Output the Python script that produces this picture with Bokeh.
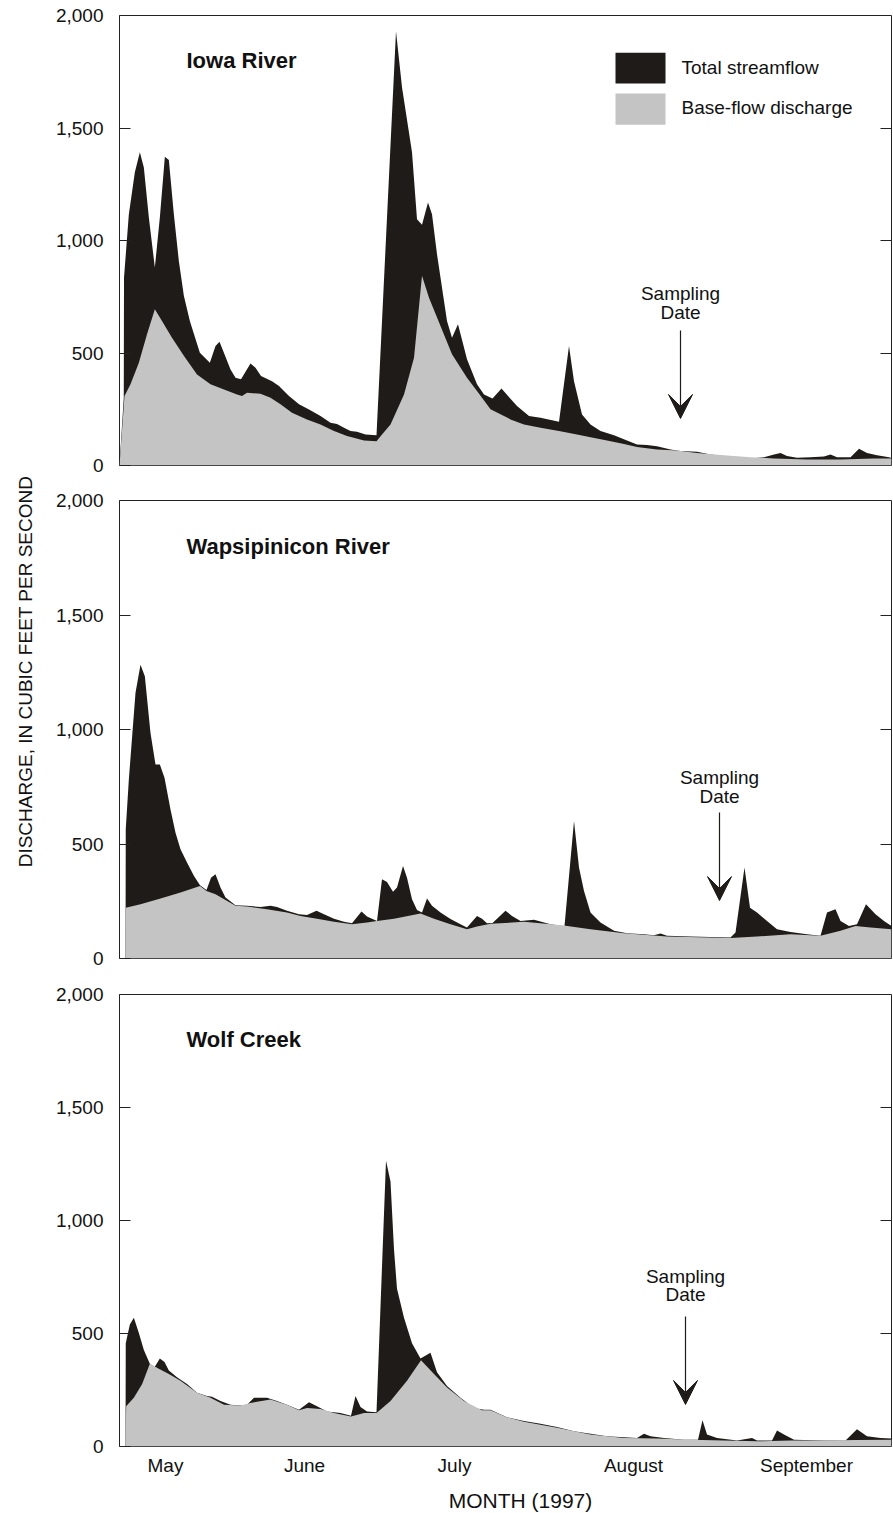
import math
from bokeh.plotting import figure
from bokeh.layouts import column, row
from bokeh.models import (Range1d, LinearAxis, FixedTicker, NumeralTickFormatter,
                          Label, Arrow, VeeHead)
from bokeh.embed import file_html
from bokeh.resources import INLINE

# ---------------- data (day index from start of record, discharge in ft3/s) ----------------
iowa_total_day = [0, 0.85, 0.9, 1.87, 3.07, 4.07, 4.87, 5.87, 7.07, 8.07, 9.07, 9.87, 10.87, 11.87,
                  12.87, 14.07, 16.07, 18.07, 19.2, 20.0, 21.0, 22.2, 23.2, 24.3, 26.2, 27.2, 28.3,
                  30.5, 31.9, 33.9, 35.9, 37.9, 40.2, 42.2, 43.5, 44.9, 46.2, 47.5, 49.2, 51.4, 55.3,
                  56.5, 58.5, 59.5, 60.5, 61.7, 62.5, 63.5, 65.5, 66.5, 67.7, 69.5, 71.5, 72.9, 74.6,
                  76.4, 79.5, 81.9, 84.2, 87.9, 89.9, 90.9, 92.5, 94.2, 96.2, 98.9, 101.5, 103.5,
                  105.5, 107.5, 110.2, 112.2, 115.5, 118.2, 120.9, 123.5, 126.2, 128.9, 130.9, 132.2,
                  133.5, 135.5, 138.2, 140.9, 142.2, 143.5, 146.2, 147.9, 149.5, 151.5, 153.9, 154.4]
iowa_total_cfs = [0, 300, 835, 1117, 1303, 1392, 1325, 1102, 880, 1102, 1372, 1358, 1117, 909,
                  754, 642, 501, 457, 531, 550, 494, 427, 390, 383, 453, 435, 398,
                  375, 353, 309, 272, 249, 220, 190, 185, 168, 153, 150, 138, 135, 1930,
                  1681, 1392, 1095, 1070, 1169, 1117, 939, 642, 568, 628, 472, 361, 316, 298,
                  342, 264, 220, 212, 194, 531, 375, 227, 182, 153, 135, 111, 93,
                  91, 86, 71, 64, 61, 49, 42, 37, 31, 37, 49, 56,
                  42, 34, 37, 40, 49, 37, 37, 74, 56, 46, 37, 33]
iowa_base_day = [0, 1.0, 2.2, 3.87, 5.5, 7.07, 8.5, 10.5, 12.9, 15.5, 18.2, 20.9, 23.5, 24.5, 25.5,
                 28.2, 30.2, 32.2, 34.5, 37.5, 40.2, 42.9, 45.5, 48.9, 51.4, 52.5, 54.2, 56.9, 58.9,
                 60.5, 61.9, 64.2, 66.5, 69.5, 71.5, 74.2, 78.2, 80.9, 84.2, 87.9, 91.5, 94.2, 97.5,
                 100.9, 103.5, 107.5, 111.5, 115.5, 120.9, 126.2, 130.9, 137.5, 144.2, 150.9, 154.4]
iowa_base_cfs = [0, 309, 361, 457, 583, 694, 642, 568, 487, 405, 361, 338, 316, 309, 323,
                 319, 301, 272, 234, 205, 182, 153, 131, 111, 108, 138, 182, 316, 479,
                 843, 746, 620, 494, 390, 331, 250, 205, 182, 168, 153, 138, 126, 111,
                 96, 82, 71, 67, 56, 46, 37, 31, 27, 27, 31, 31]

wapsi_total_day = [1.2, 1.25, 1.87, 2.53, 3.2, 4.2, 5.07, 6.2, 7.2, 8.07, 9.0, 10.2, 11.2, 12.2,
                   13.5, 14.9, 16.1, 17.4, 18.3, 19.2, 20.2, 21.2, 23.2, 25.5, 28.2, 30.2, 31.5,
                   33.5, 35.9, 37.5, 39.4, 40.9, 42.9, 44.9, 46.5, 48.4, 49.5, 51.5, 52.5, 53.5,
                   54.7, 55.5, 56.7, 57.5, 58.5, 59.5, 60.5, 61.5, 62.5, 64.2, 66.2, 68.2, 69.5,
                   71.5, 72.5, 73.5, 74.6, 77.2, 78.5, 80.2, 82.9, 86.2, 88.5, 89.0, 90.9, 91.9,
                   92.9, 94.2, 96.2, 98.9, 101.5, 104.9, 106.9, 108.2, 109.5, 114.2, 118.2, 122.2,
                   123.2, 125.0, 126.1, 127.5, 129.5, 131.5, 134.2, 137.5, 140.2, 141.5, 143.2,
                   144.2, 145.9, 147.5, 149.3, 151.2, 152.9, 154.4]
wapsi_total_cfs = [0, 564, 782, 971, 1160, 1283, 1233, 985, 847, 847, 789, 651, 549, 477,
                   419, 360, 320, 299, 353, 368, 310, 266, 233, 230, 225, 230, 225,
                   208, 193, 190, 208, 193, 174, 160, 154, 205, 183, 164, 346, 334,
                   291, 310, 404, 353, 259, 212, 201, 262, 230, 201, 172, 150, 135,
                   186, 174, 154, 155, 208, 186, 164, 169, 150, 142, 142, 600, 397,
                   295, 201, 157, 121, 110, 106, 102, 109, 99, 96, 94, 92,
                   113, 397, 222, 201, 164, 128, 116, 106, 99, 201, 215,
                   164, 142, 150, 237, 193, 164, 142]
wapsi_base_day = [1.2, 1.25, 4.2, 8.2, 12.2, 16.1, 17.4, 19.2, 23.2, 25.5, 29.5, 33.5, 36.2, 39.5,
                  42.9, 46.5, 49.5, 51.5, 54.9, 60.2, 62.9, 66.2, 69.5, 71.5, 74.2, 80.9, 88.5,
                  94.2, 100.9, 109.5, 122.2, 127.5, 134.2, 140.2, 144.2, 147.2, 150.2, 154.4]
wapsi_base_cfs = [0, 222, 237, 262, 288, 317, 295, 281, 230, 227, 215, 201, 186, 174,
                  160, 150, 157, 164, 174, 196, 174, 150, 128, 140, 152, 160, 145,
                  128, 110, 96, 89, 96, 106, 99, 121, 142, 135, 128]

wolf_total_day = [1.2, 1.25, 2.07, 2.87, 3.87, 4.87, 6.07, 7.0, 8.07, 9.0, 9.87, 11.5, 13.5, 15.5,
                  17.5, 18.5, 20.2, 22.2, 24.2, 25.5, 26.9, 29.5, 31.5, 33.5, 35.9, 37.9, 39.5,
                  41.5, 44.2, 46.3, 47.2, 48.2, 49.5, 51.4, 53.3, 54.2, 54.9, 55.5, 56.9, 58.5,
                  60.2, 62.2, 63.5, 65.5, 68.2, 70.9, 72.9, 74.2, 77.5, 80.9, 84.2, 87.5, 90.9,
                  94.2, 97.5, 100.9, 103.5, 104.9, 106.2, 108.9, 112.9, 115.7, 116.6, 117.5, 119.5,
                  123.5, 126.5, 127.5, 130.5, 131.5, 132.9, 134.9, 140.9, 145.2, 147.5, 149.5,
                  152.2, 154.4]
wolf_total_cfs = [0, 457, 540, 570, 502, 427, 366, 351, 389, 374, 336, 306, 276, 238,
                  223, 220, 201, 185, 181, 185, 216, 216, 201, 185, 163, 196, 178,
                  155, 148, 136, 223, 175, 155, 151, 1264, 1173, 872, 698, 570, 457,
                  389, 415, 329, 268, 216, 170, 163, 163, 129, 113, 101, 86, 68,
                  56, 45, 41, 38, 56, 45, 38, 30, 30, 116, 53, 38,
                  26, 38, 26, 26, 71, 53, 30, 27, 27, 76, 45,
                  38, 35]
wolf_base_day = [1.2, 1.33, 2.87, 4.53, 6.07, 7.87, 9.87, 12.2, 15.5, 18.2, 20.9, 24.2, 26.2, 30.2,
                 33.5, 35.9, 37.5, 40.2, 42.9, 46.3, 48.9, 51.4, 54.2, 57.5, 60.3, 62.9, 65.5,
                 68.9, 72.5, 74.2, 77.5, 80.9, 87.5, 94.2, 100.9, 107.5, 114.2, 120.9, 127.5,
                 134.2, 140.9, 147.5, 154.4]
wolf_base_cfs = [0, 178, 216, 276, 366, 344, 321, 291, 238, 216, 185, 181, 193, 208,
                 185, 160, 170, 166, 148, 133, 148, 148, 201, 291, 382, 321, 261,
                 201, 160, 160, 129, 110, 83, 53, 38, 35, 30, 26, 23,
                 26, 26, 29, 30]

# sampling dates (day index) and panel names
sampling_day = [112.2, 120.0, 113.2]
panel_names = ["Iowa River", "Wapsipinicon River", "Wolf Creek"]
month_names = ["May", "June", "July", "August", "September"]
month_ticks = [9.2, 37.0, 67.0, 102.8, 137.4]
y_ticks = [0, 500, 1000, 1500, 2000]

# ---------------- styling ----------------
FONT = "Liberation Sans"
BLACK = "#1f1b18"
GRAY = "#c4c4c4"
TXT = "#111111"
X_END = 154.4
LABEL_W = 40          # width of the strip that holds the shared y-axis title
TOTAL_H = 1512
MAIN_W = 893 - LABEL_W
XTITLE_H = 28         # strip below the panels holding the x-axis title

series = [
    (iowa_total_day, iowa_total_cfs, iowa_base_day, iowa_base_cfs),
    (wapsi_total_day, wapsi_total_cfs, wapsi_base_day, wapsi_base_cfs),
    (wolf_total_day, wolf_total_cfs, wolf_base_day, wolf_base_cfs),
]
# (height, border top, border bottom)
geom = [(482, 15, 17), (494, 18, 18), (508, 18, 38)]
# arrow (start, end) in cfs and text rows for "Sampling"/"Date"
arrow_y = [(600, 209), (638, 253), (575, 186)]
text_y = [(764, 680), (790, 707), (752, 673)]

figs = []
for i in range(3):
    h, bt, bb = geom[i]
    p = figure(width=MAIN_W, height=h, x_range=Range1d(0, X_END), y_range=Range1d(0, 2000),
               output_backend="svg", toolbar_location=None,
               x_axis_location=("below" if i == 2 else None),
               min_border_left=119 - LABEL_W, min_border_right=2,
               min_border_top=bt, min_border_bottom=bb)
    p.grid.visible = False
    p.outline_line_color = "#222222"
    p.outline_line_width = 1
    p.background_fill_color = "white"
    p.border_fill_color = "white"

    td, tv, bd, bv = series[i]
    p.varea(x=td, y1=0, y2=tv, fill_color=BLACK)
    p.varea(x=bd, y1=0, y2=bv, fill_color=GRAY)

    ya = p.yaxis[0]
    ya.ticker = FixedTicker(ticks=y_ticks)
    ya.formatter = NumeralTickFormatter(format="0,0")
    ya.major_tick_in = 11
    ya.major_tick_out = 0
    ya.minor_tick_line_color = None
    ya.axis_line_color = None
    ya.major_tick_line_color = "#222222"
    ya.major_label_standoff = 16
    ya.major_label_text_font = FONT
    ya.major_label_text_font_size = "19px"
    ya.major_label_text_color = TXT

    ra = LinearAxis(ticker=FixedTicker(ticks=[500, 1000, 1500]), major_tick_in=11, major_tick_out=0,
                    major_label_text_font_size="0px", major_label_text_color=None,
                    major_label_standoff=0, axis_line_color=None, minor_tick_line_color=None,
                    major_tick_line_color="#222222")
    p.add_layout(ra, "right")

    p.add_layout(Label(x=13.4, y=1800, text=panel_names[i], text_font=FONT,
                       text_font_style="bold", text_font_size="22px", text_color=TXT,
                       text_align="left", text_baseline="middle"))

    sx = sampling_day[i]
    ys, ye = arrow_y[i]
    p.add_layout(Arrow(end=VeeHead(size=24, fill_color=BLACK, line_color=BLACK, line_width=1),
                       x_start=sx, y_start=ys, x_end=sx, y_end=ye,
                       line_color=BLACK, line_width=1.2))
    t1, t2 = text_y[i]
    for txt, ty in (("Sampling", t1), ("Date", t2)):
        p.add_layout(Label(x=sx, y=ty, text=txt, text_font=FONT, text_font_size="19px",
                           text_color=TXT, text_align="center", text_baseline="middle"))

    if i == 0:
        # legend swatches
        p.quad(left=[99.2], right=[109.2], top=[1835], bottom=[1698], fill_color=BLACK, line_color=None)
        p.quad(left=[99.2], right=[109.2], top=[1653], bottom=[1515], fill_color=GRAY, line_color=None)
        p.add_layout(Label(x=112.4, y=1769, text="Total streamflow", text_font=FONT,
                           text_font_size="19px", text_color=TXT,
                           text_align="left", text_baseline="middle"))
        p.add_layout(Label(x=112.4, y=1591, text="Base-flow discharge", text_font=FONT,
                           text_font_size="19px", text_color=TXT,
                           text_align="left", text_baseline="middle"))
    if i == 2:
        xa = p.xaxis[0]
        xa.ticker = FixedTicker(ticks=month_ticks)
        xa.major_label_overrides = {t: m for t, m in zip(month_ticks, month_names)}
        xa.major_tick_in = 0
        xa.major_tick_out = 0
        xa.minor_tick_line_color = None
        xa.axis_line_color = None
        xa.major_label_standoff = 8
        xa.major_label_text_font = FONT
        xa.major_label_text_font_size = "19px"
        xa.major_label_text_color = TXT
    figs.append(p)

# strip below the panels carrying the x-axis title (its frame lines up with the panels' frames)
xt = figure(width=MAIN_W, height=XTITLE_H, x_range=Range1d(0, X_END), y_range=Range1d(0, XTITLE_H),
            output_backend="svg", toolbar_location=None, x_axis_location=None, y_axis_location=None,
            min_border_left=119 - LABEL_W, min_border_right=2, min_border_top=0, min_border_bottom=0)
xt.grid.visible = False
xt.outline_line_color = None
xt.add_layout(Label(x=80.2, y=12, text="MONTH (1997)", text_font=FONT,
                    text_font_size="21px", text_color=TXT,
                    text_align="center", text_baseline="middle"))

# narrow strip carrying the shared y-axis title
lab = figure(width=LABEL_W, height=TOTAL_H, x_range=Range1d(0, LABEL_W), y_range=Range1d(0, TOTAL_H),
             output_backend="svg", toolbar_location=None, x_axis_location=None, y_axis_location=None,
             min_border_left=0, min_border_right=0, min_border_top=0, min_border_bottom=0)
lab.grid.visible = False
lab.outline_line_color = None
lab.add_layout(Label(x=25, y=TOTAL_H - 671, text="DISCHARGE, IN CUBIC FEET PER SECOND",
                     angle=math.pi / 2, text_font=FONT, text_font_size="19px",
                     text_color=TXT, text_align="center", text_baseline="middle"))

layout = row(lab, column(*figs, xt, spacing=0), spacing=0)
open("out.html", "w").write(file_html(layout, INLINE))
